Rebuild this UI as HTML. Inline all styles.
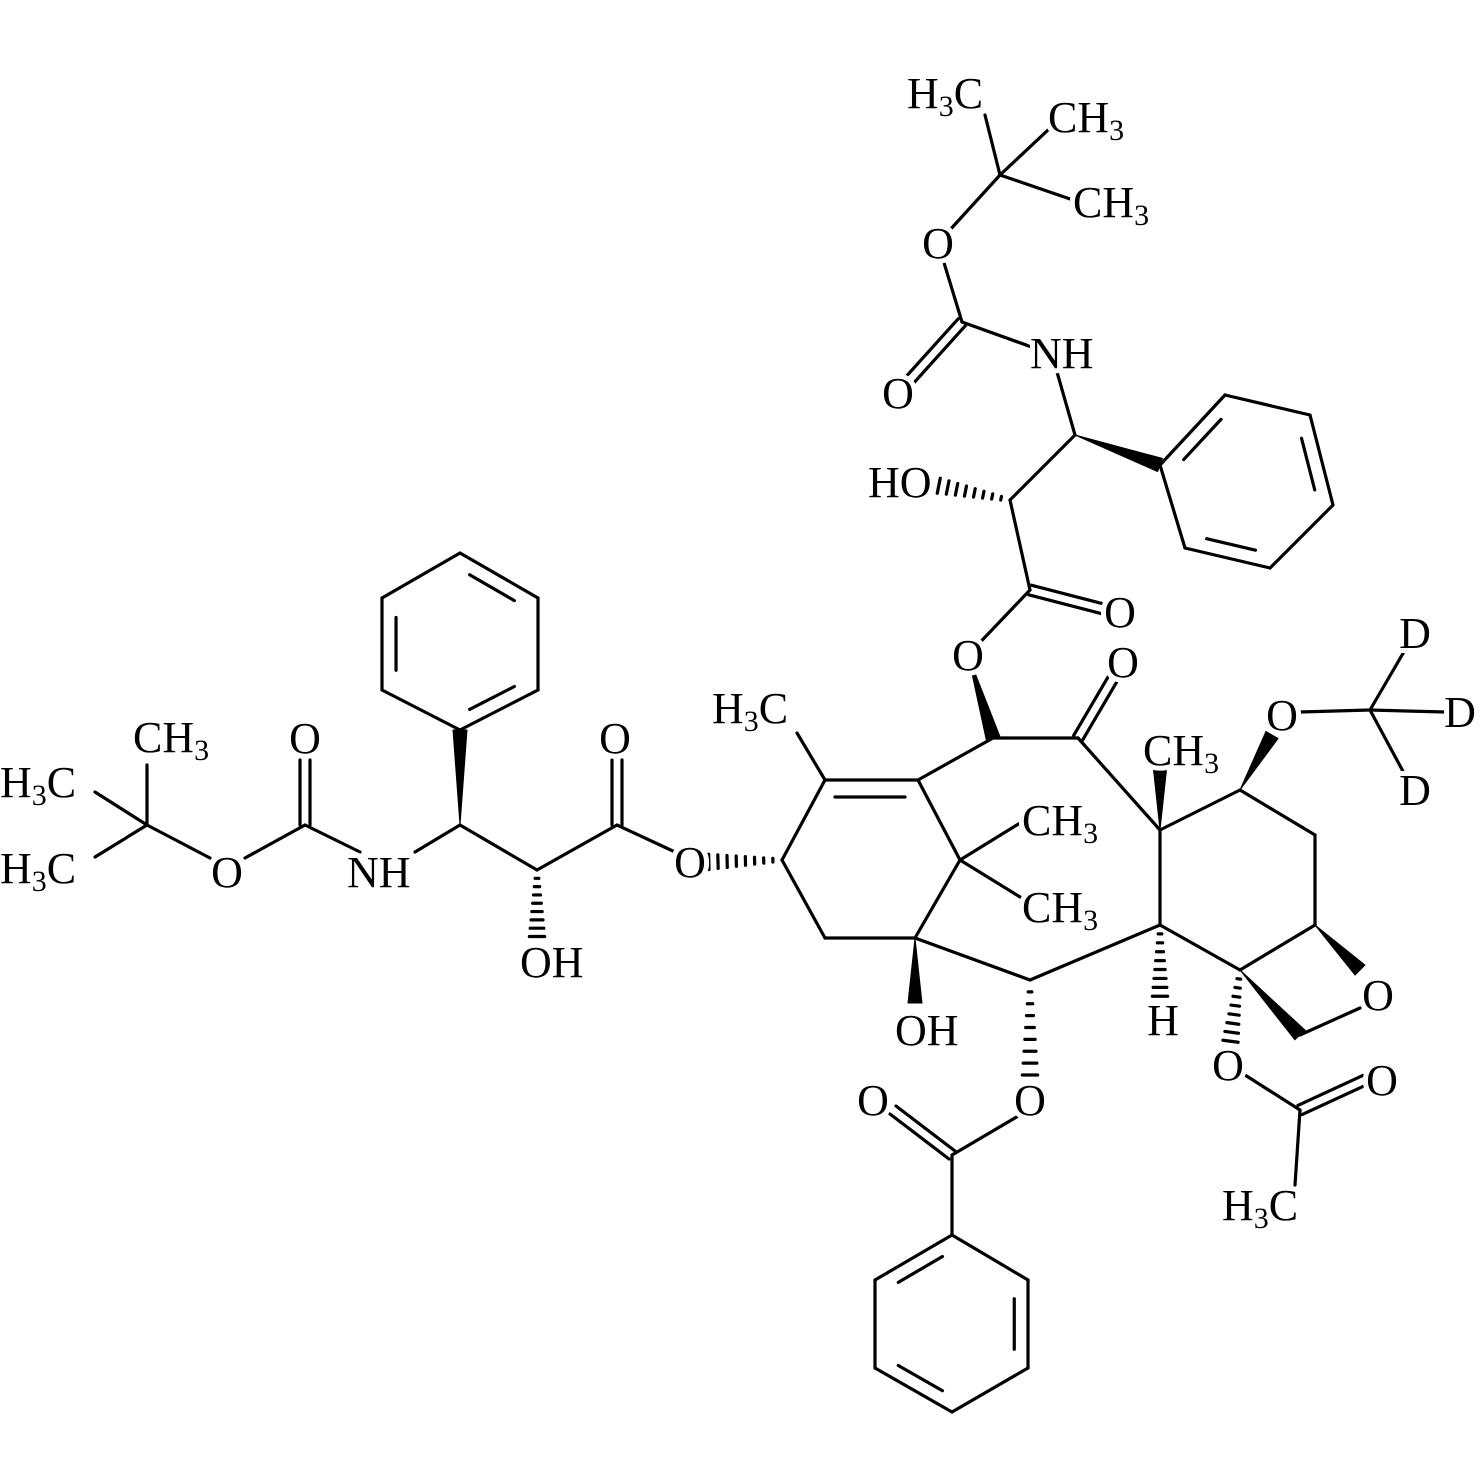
<!DOCTYPE html>
<html><head><meta charset="utf-8">
<style>
html,body{margin:0;padding:0;background:#fff;}
svg{display:block;}
text{font-family:"Liberation Serif",serif;font-size:44px;fill:#000;stroke:#fff;stroke-width:10px;paint-order:stroke;stroke-linejoin:round;}
tspan.s{font-size:30px;}
</style></head>
<body>
<svg id="m" width="1480" height="1480" viewBox="0 0 1480 1480" xmlns="http://www.w3.org/2000/svg">
<g id="b" stroke="#000" stroke-width="3.2" fill="#000" stroke-linecap="round"></g>
<g id="bg" fill="#fff">
<circle cx="938" cy="243" r="17"/><circle cx="898" cy="393" r="17"/><circle cx="1120" cy="612" r="17"/>
<circle cx="968" cy="655" r="17"/><circle cx="1123" cy="662" r="17"/><circle cx="1282" cy="715" r="17"/>
<circle cx="690" cy="862" r="17"/><circle cx="1378" cy="995" r="17"/><circle cx="1030" cy="1100" r="17"/>
<circle cx="873" cy="1100" r="17"/><circle cx="1228" cy="1065" r="17"/><circle cx="1382" cy="1080" r="17"/>
<circle cx="615" cy="738" r="17"/><circle cx="305" cy="738" r="17"/><circle cx="227" cy="872" r="17"/>
</g>
<g id="t">
<text x="907" y="108">H<tspan class="s" dy="8">3</tspan><tspan dy="-8">C</tspan></text>
<text x="1048" y="132">CH<tspan class="s" dy="8">3</tspan></text>
<text x="1073" y="217">CH<tspan class="s" dy="8">3</tspan></text>
<text x="938" y="258" text-anchor="middle">O</text>
<text x="898" y="408" text-anchor="middle">O</text>
<text x="1030" y="368">NH</text>
<text x="868" y="497">HO</text>
<text x="1120" y="627" text-anchor="middle">O</text>
<text x="968" y="670" text-anchor="middle">O</text>
<text x="1123" y="677" text-anchor="middle">O</text>
<text x="1415" y="648" text-anchor="middle">D</text>
<text x="1460" y="727" text-anchor="middle">D</text>
<text x="1415" y="805" text-anchor="middle">D</text>
<text x="1282" y="730" text-anchor="middle">O</text>
<text x="712" y="723">H<tspan class="s" dy="8">3</tspan><tspan dy="-8">C</tspan></text>
<text x="1143" y="765">CH<tspan class="s" dy="8">3</tspan></text>
<text x="1022" y="835">CH<tspan class="s" dy="8">3</tspan></text>
<text x="1022" y="922">CH<tspan class="s" dy="8">3</tspan></text>
<text x="690" y="877" text-anchor="middle">O</text>
<text x="895" y="1045">OH</text>
<text x="1163" y="1035" text-anchor="middle">H</text>
<text x="1378" y="1010" text-anchor="middle">O</text>
<text x="1030" y="1115" text-anchor="middle">O</text>
<text x="873" y="1115" text-anchor="middle">O</text>
<text x="1228" y="1080" text-anchor="middle">O</text>
<text x="1382" y="1095" text-anchor="middle">O</text>
<text x="1222" y="1220">H<tspan class="s" dy="8">3</tspan><tspan dy="-8">C</tspan></text>
<text x="615" y="753" text-anchor="middle">O</text>
<text x="520" y="977">OH</text>
<text x="347" y="887">NH</text>
<text x="305" y="753" text-anchor="middle">O</text>
<text x="227" y="887" text-anchor="middle">O</text>
<text x="133" y="752">CH<tspan class="s" dy="8">3</tspan></text>
<text x="0" y="797">H<tspan class="s" dy="8">3</tspan><tspan dy="-8">C</tspan></text>
<text x="0" y="883">H<tspan class="s" dy="8">3</tspan><tspan dy="-8">C</tspan></text>
</g>
</svg>
<script>
var g=document.getElementById('b'),NS='http://www.w3.org/2000/svg';
function el(n,a){var e=document.createElementNS(NS,n);for(var k in a)e.setAttribute(k,a[k]);g.appendChild(e);return e;}
function L(a,b,c,d){el('line',{x1:a,y1:b,x2:c,y2:d});}
function D(a,b,c,d){var dx=c-a,dy=d-b,l=Math.hypot(dx,dy),nx=-dy/l*5,ny=dx/l*5;L(a+nx,b+ny,c+nx,d+ny);L(a-nx,b-ny,c-nx,d-ny);}
function R(p,dbl){var cx=0,cy=0;p.forEach(function(q){cx+=q[0];cy+=q[1];});cx/=6;cy/=6;
for(var i=0;i<6;i++){var A=p[i],B=p[(i+1)%6];L(A[0],A[1],B[0],B[1]);
if(dbl.indexOf(i)>=0){var f=0.18,s=0.15;var a1=[A[0]+(cx-A[0])*f,A[1]+(cy-A[1])*f],b1=[B[0]+(cx-B[0])*f,B[1]+(cy-B[1])*f];
L(a1[0]+(b1[0]-a1[0])*s,a1[1]+(b1[1]-a1[1])*s,b1[0]-(b1[0]-a1[0])*s,b1[1]-(b1[1]-a1[1])*s);}}}
function W(a,b,c,d){var dx=c-a,dy=d-b,l=Math.hypot(dx,dy),nx=-dy/l*7,ny=dx/l*7;
el('polygon',{points:a+','+b+' '+(c+nx)+','+(d+ny)+' '+(c-nx)+','+(d-ny),'stroke-width':1});}
function H(a,b,c,d){var dx=c-a,dy=d-b,l=Math.hypot(dx,dy),nx=-dy/l,ny=dx/l,n=8;
for(var i=1;i<=n;i++){var t=i/n*0.95,w=1+7*t,x=a+dx*t,y=b+dy*t;L(x+nx*w,y+ny*w,x-nx*w,y-ny*w);}}
L(1000,175,985,115);L(1000,175,1048,130);L(1000,175,1073,200);L(1000,175,938,243);
L(938,243,962,322);D(962,322,898,393);L(962,322,1040,350);L(1055,365,1075,435);
W(1075,435,1160,465);
R([[1160,465],[1225,395],[1310,415],[1333,505],[1270,568],[1185,548]],[0,2,4]);
L(1075,435,1010,500);H(1010,500,935,485);L(1010,500,1030,590);D(1030,590,1115,612);
L(1030,590,968,655);W(968,655,993,738);
L(993,738,1078,738);D(1078,738,1115,675);L(993,738,918,780);
L(918,780,825,780);L(905,797,835,797);
L(825,780,797,733);L(825,780,782,860);H(782,860,705,862);L(782,860,825,938);L(825,938,915,938);
L(918,780,960,860);L(960,860,1025,820);L(960,860,1025,900);L(960,860,915,938);
W(915,938,915,1003);L(915,938,1030,980);H(1030,980,1030,1080);L(1030,980,1160,925);
L(1078,738,1160,830);W(1160,830,1160,765);L(1160,830,1160,925);H(1160,925,1160,1000);
L(1160,925,1240,970);L(1160,830,1240,790);W(1240,790,1272,735);L(1300,712,1370,710);
L(1370,710,1405,650);L(1370,710,1445,712);L(1370,710,1405,775);
L(1240,790,1315,835);L(1315,835,1315,925);L(1315,925,1240,970);W(1315,925,1360,970);
W(1240,970,1300,1035);L(1300,1035,1360,1008);H(1240,970,1230,1045);
L(1245,1075,1300,1110);D(1300,1110,1365,1080);L(1300,1110,1295,1185);
L(1020,1115,952,1155);D(952,1155,893,1110);L(952,1155,952,1235);
R([[952,1235],[1028,1280],[1028,1368],[952,1412],[875,1368],[875,1280]],[1,3,5]);
L(675,852,617,825);D(617,825,617,760);L(617,825,537,870);H(537,870,537,940);
L(537,870,460,825);W(460,825,460,730);
R([[460,730],[538,690],[538,598],[460,553],[382,598],[382,690]],[0,2,4]);
L(460,825,415,852);L(360,852,305,825);D(305,825,305,760);L(305,825,245,858);
L(210,858,147,825);L(147,825,147,765);L(147,825,95,792);L(147,825,95,857);
</script>
</body></html>
